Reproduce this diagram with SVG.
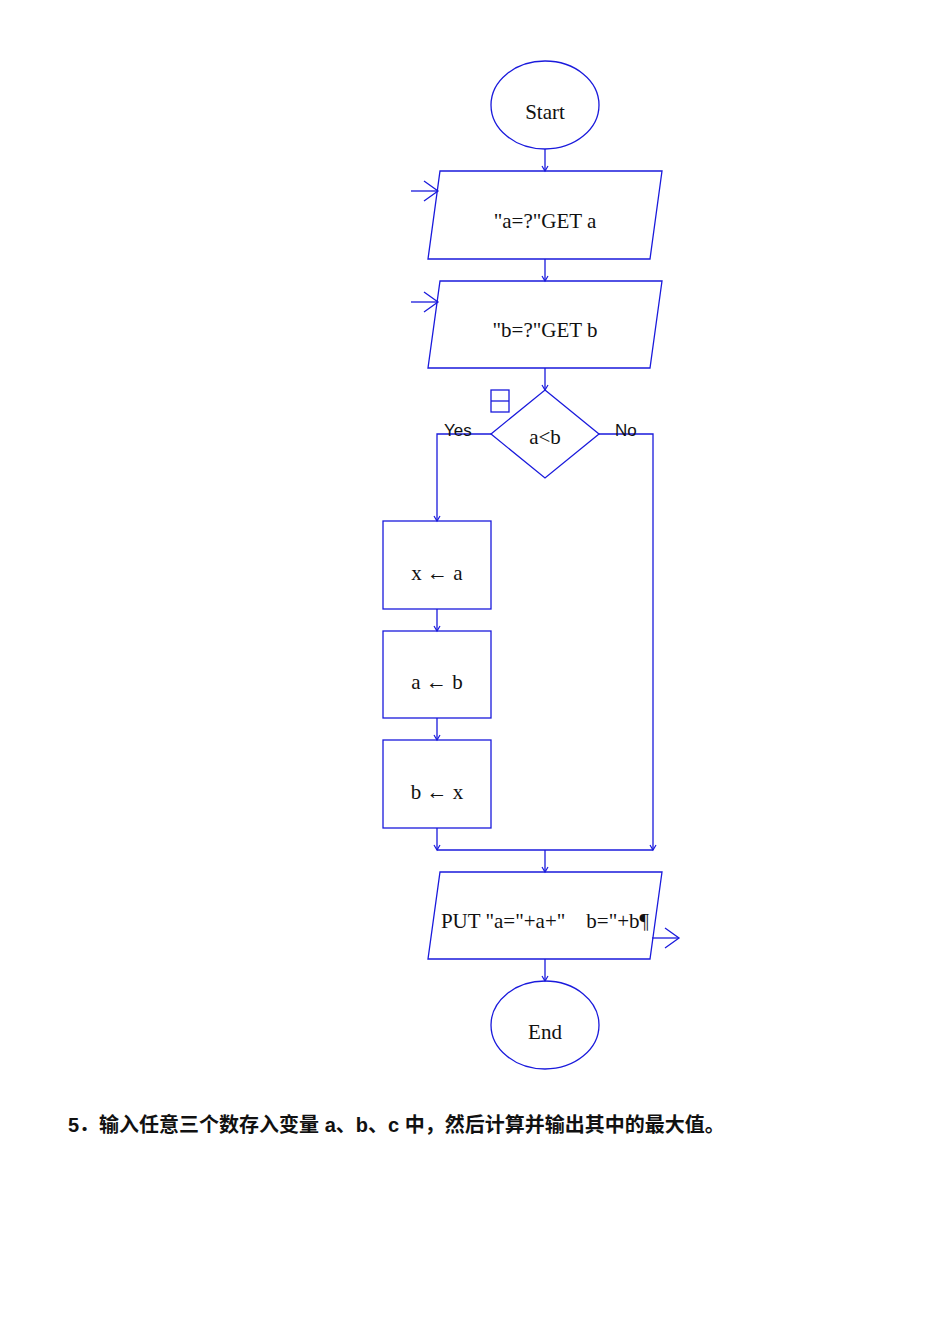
<svg xmlns="http://www.w3.org/2000/svg" width="950" height="1344" viewBox="0 0 950 1344">
<style>
.s{fill:none;stroke:#1a1adc;stroke-width:1.3}
.t{font-family:"Liberation Serif",serif;font-size:21px;fill:#111;text-anchor:middle}
.l{font-family:"Liberation Sans",sans-serif;font-size:17px;fill:#111}
</style>
<defs>
<marker id="a" markerWidth="8" markerHeight="8" refX="6" refY="4" orient="auto" markerUnits="userSpaceOnUse"><path d="M1,1 L6,4 L1,7" fill="none" stroke="#1a1adc" stroke-width="1.2"/></marker>
<marker id="b" markerWidth="30" markerHeight="24" refX="27" refY="12" orient="auto" markerUnits="userSpaceOnUse"><path d="M13,2 L27,12 L13,22" fill="none" stroke="#1a1adc" stroke-width="1.3"/></marker>
</defs>
<rect width="950" height="1344" fill="#fff"/>
<g id="connectors" class="s">
<path d="M545,149 V171" marker-end="url(#a)"/>
<path d="M545,259 V281" marker-end="url(#a)"/>
<path d="M545,368 V390" marker-end="url(#a)"/>
<path d="M491,434 H437 V521" marker-end="url(#a)"/>
<path d="M437,609 V631" marker-end="url(#a)"/>
<path d="M437,718 V740" marker-end="url(#a)"/>
<path d="M437,828 V850" marker-end="url(#a)"/>
<path d="M599,434 H653 V850" marker-end="url(#a)"/>
<path d="M437,850 H653"/>
<path d="M545,850 V872" marker-end="url(#a)"/>
<path d="M545,959 V981" marker-end="url(#a)"/>
<path d="M411,191 H438" marker-end="url(#b)"/>
<path d="M411,302 H438" marker-end="url(#b)"/>
<path d="M652,938 H679" marker-end="url(#b)"/>
</g>
<g id="start"><ellipse class="s" cx="545" cy="105" rx="54" ry="44"/><text class="t" x="545" y="119">Start</text></g>
<g id="inA"><path class="s" d="M440,171 H662 L650,259 H428 Z"/><text class="t" x="545" y="228">"a=?"GET a</text></g>
<g id="inB"><path class="s" d="M440,281 H662 L650,368 H428 Z"/><text class="t" x="545" y="337">"b=?"GET b</text></g>
<g id="dec"><path class="s" d="M545,390 L599,434 L545,478 L491,434 Z"/><text class="t" x="545" y="444">a&lt;b</text>
<rect class="s" x="491" y="390" width="18" height="22"/><path class="s" d="M491,401 H509"/>
<text class="l" x="444" y="436">Yes</text><text class="l" x="615" y="436">No</text></g>
<g id="r1"><rect class="s" x="383" y="521" width="108" height="88"/><text class="t" x="437" y="580">x ← a</text></g>
<g id="r2"><rect class="s" x="383" y="631" width="108" height="87"/><text class="t" x="437" y="689">a ← b</text></g>
<g id="r3"><rect class="s" x="383" y="740" width="108" height="88"/><text class="t" x="437" y="799">b ← x</text></g>
<g id="out"><path class="s" d="M440,872 H662 L650,959 H428 Z"/><text class="t" x="545" y="928" xml:space="preserve">PUT "a="+a+"    b="+b¶</text></g>
<g id="end"><ellipse class="s" cx="545" cy="1025" rx="54" ry="44"/><text class="t" x="545" y="1039">End</text></g>
<text x="68" y="1132" font-family="'Liberation Sans','Noto Sans CJK SC',sans-serif" font-size="20" font-weight="bold" fill="#111">5．输入任意三个数存入变量 a、b、c 中，然后计算并输出其中的最大值。</text>
</svg>
